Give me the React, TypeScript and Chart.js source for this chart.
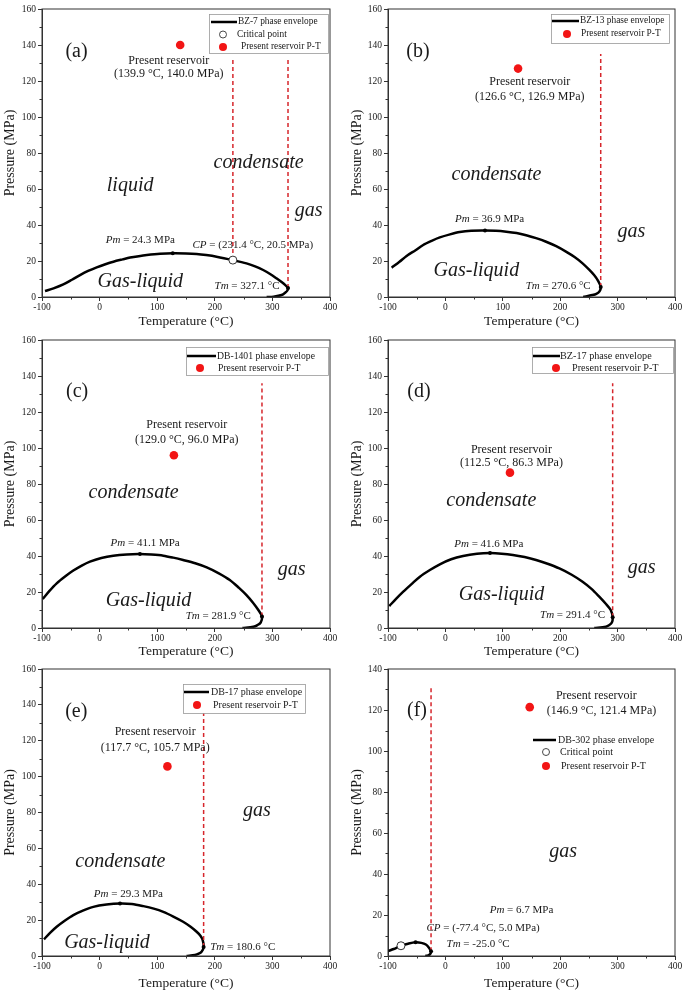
import { useEffect, useRef } from "react";
import { Chart, registerables } from "chart.js";

Chart.register(...registerables);

const SERIF = "'Liberation Serif', 'Times New Roman', Times, serif";
const RED_MARK = "#f21515";
const RED_DASH = "#d6262c";
const INK = "#1a1a1a";
const AXIS = "#333333";

// ---------------- data ----------------
const wellNames = ["BZ-7", "BZ-13", "DB-1401", "BZ-17", "DB-17", "DB-302"];
const panelLetters = ["(a)", "(b)", "(c)", "(d)", "(e)", "(f)"];

const bz7Temp = [-94.8, -80, -63, -48, -34, -20, -5, 10, 24, 40, 53, 68, 82, 105, 127, 150, 168.5, 185, 203, 231.4, 255, 270, 284, 296, 307, 316, 322, 327.1, 326, 323, 316, 302, 290];
const bz7Pres = [3.3, 4.8, 7, 9.6, 12.2, 14.5, 16.5, 18.2, 19.6, 20.9, 21.9, 22.7, 23.3, 24, 24.3, 24.2, 23.9, 23.3, 22.4, 20.5, 18.7, 17, 15, 12.8, 10.4, 8.3, 6.7, 5, 3.6, 2.6, 1.1, 0.2, 0];

const bz13Temp = [-93.6, -80, -67.6, -52, -38.7, -24, -9.7, 8, 25, 45, 69, 88, 106, 124, 140.7, 158, 175.5, 193, 210, 225, 239, 250, 259, 266, 270.6, 268.5, 263, 256, 240];
const bz13Pres = [16.3, 19.6, 22.8, 26, 28.9, 31.2, 33.1, 34.8, 36.1, 36.8, 36.9, 36.8, 36.3, 35.5, 34.3, 32.7, 30.7, 28.2, 25.2, 22.2, 18.7, 15.3, 12.2, 9, 5.6, 3.1, 1.8, 1.1, 0];

const db1401Temp = [-98.8, -87, -74.5, -60, -45.6, -31, -16.7, 3, 23.8, 47, 70, 90, 110.6, 128, 145, 166, 186, 207, 226, 242, 255, 266, 275.6, 281.9, 279.6, 274, 267, 248];
const db1401Pres = [16.1, 20.6, 24.8, 28.6, 31.9, 34.7, 36.9, 38.9, 40.2, 40.9, 41.1, 40.8, 40.2, 39.1, 37.8, 36, 33.7, 30.4, 26.7, 22.3, 18.3, 14.2, 10, 6.4, 3, 1.6, 0.7, 0];

const bz17Temp = [-97.7, -86, -73.4, -59, -44.4, -27, -9.7, 10, 30.8, 55, 77.7, 98, 117.6, 138, 158, 178, 198.6, 220, 239, 255, 268, 279, 288, 291.4, 290, 285, 279.6, 259.4];
const bz17Pres = [12.2, 16.2, 20.2, 24.4, 28.5, 32.2, 35.4, 38.2, 40, 41.2, 41.6, 41.3, 40.6, 39.4, 37.8, 35.7, 33.1, 29.6, 25.7, 21.6, 17.4, 13.6, 10, 6, 3, 1.5, 0.7, 0];

const db17Temp = [-96.5, -86, -74.5, -60, -45.6, -28, -10.9, 12, 35.4, 56, 76, 94, 110.6, 128, 145, 158, 168.5, 175, 179, 180.6, 177, 172, 165.6, 151];
const db17Pres = [9.3, 12.9, 16.3, 19.8, 22.8, 25.4, 27.4, 28.7, 29.3, 29, 27.8, 26.4, 24.6, 22, 19.1, 16.3, 13.5, 11.3, 8.9, 5, 2.4, 1.3, 0.6, 0];

const db302Temp = [-100, -90, -77.4, -65, -52, -42, -34, -29, -25, -26.5, -30, -35];
const db302Pres = [2.4, 3.4, 5.0, 6.0, 6.7, 6.4, 5.6, 4.2, 2.3, 1.0, 0.3, 0];

const envelopeTemps = [bz7Temp, bz13Temp, db1401Temp, bz17Temp, db17Temp, db302Temp];
const envelopePres = [bz7Pres, bz13Pres, db1401Pres, bz17Pres, db17Pres, db302Pres];

const reservoirTemp = [139.9, 126.6, 129.0, 112.5, 117.7, 146.9];
const reservoirPres = [140.0, 126.9, 96.0, 86.3, 105.7, 121.4];

const pmTemp = [127, 69, 70, 77.7, 35.4, -52];
const pmPres = [24.3, 36.9, 41.1, 41.6, 29.3, 6.7];

const tmTemp = [327.1, 270.6, 281.9, 291.4, 180.6, -25.0];
const tmPres = [5, 5.6, 6.4, 6, 5, 2.3];

const criticalTemp: (number | null)[] = [231.4, null, null, null, null, -77.4];
const criticalPres: (number | null)[] = [20.5, null, null, null, null, 5.0];

const dashTopPres = [132, 135, 136, 136, 135.4, 131.7];

const xMinTemp = -100;
const xMaxTemp = 400;
const xTickStep = 100;
const yTickStep = 20;
const yMaxPres = [160, 160, 160, 160, 160, 140];

// ---------------- layout / style ----------------
type Part = [string, boolean];
interface Note { x: number; y: number; parts: Part[]; size: number }
interface LegendRow { kind: "line" | "open" | "red"; y: number; mx: number; tx: number; label: string }
interface Layout {
  left: number; top: number; w: number; h: number;
  yAxisW: number; padTop: number; padRight: number; xAxisH: number; yTitlePad: number;
  dashAtCritical: boolean;
  legendBox: [number, number, number, number]; legendBorder: boolean;
  sample: [number, number]; legendFont: number;
  legendRows: { kind: "line" | "open" | "red"; y: number; mx: number; tx: number }[];
  pos: {
    letter: [number, number]; resTitle: [number, number]; resVal: [number, number];
    regions: [string, number, number][]; pm: [number, number]; tm: [number, number]; cp?: [number, number];
  };
}

const layouts: Layout[] = [
  {
    left: 0, top: 0, w: 343, h: 330, yAxisW: 42, padTop: 9, padRight: 13, xAxisH: 33, yTitlePad: 2,
    dashAtCritical: true,
    legendBox: [209, 14, 119, 39], legendBorder: true, sample: [211, 237], legendFont: 9.4,
    legendRows: [
      { kind: "line", y: 22, mx: 0, tx: 238 },
      { kind: "open", y: 34.5, mx: 223, tx: 237 },
      { kind: "red", y: 47, mx: 223, tx: 241 },
    ],
    pos: {
      letter: [-40, 136], resTitle: [120, 131], resVal: [120, 123.7],
      regions: [["liquid", 53, 62], ["condensate", 276, 74.4], ["gas", 363, 47.8], ["Gas-liquid", 70.7, 8.3]],
      pm: [70.7, 31.5], tm: [256, 5.9], cp: [266, 29],
    },
  },
  {
    left: 343, top: 0, w: 344, h: 330, yAxisW: 45, padTop: 9, padRight: 12, xAxisH: 33, yTitlePad: 6,
    dashAtCritical: false,
    legendBox: [208, 14, 118, 29], legendBorder: true, sample: [209, 236], legendFont: 9.4,
    legendRows: [
      { kind: "line", y: 21, mx: 0, tx: 237 },
      { kind: "red", y: 34, mx: 224, tx: 238 },
    ],
    pos: {
      letter: [-47.7, 136.4], resTitle: [147, 119.7], resVal: [147, 111.3],
      regions: [["condensate", 89, 67.7], ["gas", 324, 36.2], ["Gas-liquid", 54, 14.8]],
      pm: [77, 43], tm: [196.5, 5.9],
    },
  },
  {
    left: 0, top: 330, w: 343, h: 330, yAxisW: 42, padTop: 10, padRight: 13, xAxisH: 32, yTitlePad: 2,
    dashAtCritical: false,
    legendBox: [186, 17, 142, 28], legendBorder: true, sample: [187, 216], legendFont: 9.7,
    legendRows: [
      { kind: "line", y: 26, mx: 0, tx: 217 },
      { kind: "red", y: 38, mx: 200, tx: 218 },
    ],
    pos: {
      letter: [-39, 131], resTitle: [151.4, 112.8], resVal: [151.4, 104.5],
      regions: [["condensate", 59, 75.3], ["gas", 333.5, 32.5], ["Gas-liquid", 85, 15]],
      pm: [79, 47], tm: [206, 6.5],
    },
  },
  {
    left: 343, top: 330, w: 344, h: 330, yAxisW: 45, padTop: 10, padRight: 12, xAxisH: 32, yTitlePad: 6,
    dashAtCritical: false,
    legendBox: [189, 17, 141, 26], legendBorder: true, sample: [190, 217], legendFont: 10.2,
    legendRows: [
      { kind: "line", y: 26, mx: 0, tx: 217 },
      { kind: "red", y: 38, mx: 213, tx: 229 },
    ],
    pos: {
      letter: [-46, 131.4], resTitle: [115, 98.9], resVal: [115, 91.5],
      regions: [["condensate", 80, 70.5], ["gas", 342, 33.6], ["Gas-liquid", 97.7, 18.2]],
      pm: [75.6, 46.4], tm: [221.5, 7.4],
    },
  },
  {
    left: 0, top: 660, w: 343, h: 332, yAxisW: 42, padTop: 9, padRight: 13, xAxisH: 36, yTitlePad: 2,
    dashAtCritical: false,
    legendBox: [183, 24, 122, 29], legendBorder: true, sample: [184, 209], legendFont: 10,
    legendRows: [
      { kind: "line", y: 32, mx: 0, tx: 211 },
      { kind: "red", y: 45, mx: 197, tx: 213 },
    ],
    pos: {
      letter: [-40.5, 136], resTitle: [96.5, 124.7], resVal: [96.5, 116],
      regions: [["gas", 273, 80.7], ["condensate", 36, 52.3], ["Gas-liquid", 12.7, 7.4]],
      pm: [50, 34.3], tm: [248.5, 5.2],
    },
  },
  {
    left: 343, top: 660, w: 344, h: 332, yAxisW: 45, padTop: 9, padRight: 12, xAxisH: 36, yTitlePad: 6,
    dashAtCritical: false,
    legendBox: [188, 74, 127, 36], legendBorder: false, sample: [190, 213], legendFont: 10,
    legendRows: [
      { kind: "line", y: 80, mx: 0, tx: 215 },
      { kind: "open", y: 92, mx: 203, tx: 217 },
      { kind: "red", y: 106, mx: 203, tx: 218 },
    ],
    pos: {
      letter: [-49.4, 119.6], resTitle: [263, 126.9], resVal: [272, 119.7],
      regions: [["gas", 205, 50.8]],
      pm: [132.6, 22.4], tm: [57, 6], cp: [65.7, 13.8],
    },
  },
];

const f1 = (v: number) => v.toFixed(1);

function buildNotes(i: number): Note[] {
  const p = layouts[i].pos;
  const notes: Note[] = [
    { x: p.letter[0], y: p.letter[1], parts: [[panelLetters[i], false]], size: 20 },
    { x: p.resTitle[0], y: p.resTitle[1], parts: [["Present reservoir", false]], size: 12 },
    { x: p.resVal[0], y: p.resVal[1], parts: [[`(${f1(reservoirTemp[i])} °C, ${f1(reservoirPres[i])} MPa)`, false]], size: 12 },
    { x: p.pm[0], y: p.pm[1], parts: [["Pm", true], [` = ${f1(pmPres[i])} MPa`, false]], size: 11 },
    { x: p.tm[0], y: p.tm[1], parts: [["Tm", true], [` = ${f1(tmTemp[i])} °C`, false]], size: 11 },
  ];
  if (p.cp && criticalTemp[i] != null) {
    notes.push({
      x: p.cp[0], y: p.cp[1],
      parts: [["CP", true], [` = (${f1(criticalTemp[i] as number)} °C, ${f1(criticalPres[i] as number)} MPa)`, false]],
      size: 11,
    });
  }
  p.regions.forEach(([t, x, y]) => notes.push({ x, y, parts: [[t, true]], size: 20 }));
  return notes;
}

function legendRows(i: number): LegendRow[] {
  const labels: Record<string, string> = {
    line: `${wellNames[i]} phase envelope`,
    open: "Critical point",
    red: "Present reservoir P-T",
  };
  return layouts[i].legendRows.map((r) => ({ ...r, label: labels[r.kind] }));
}

function Panel({ idx }: { idx: number }) {
  const ref = useRef<HTMLCanvasElement | null>(null);
  const L = layouts[idx];

  useEffect(() => {
    const canvas = ref.current;
    if (!canvas) return;
    const notes = buildNotes(idx);
    const rows = legendRows(idx);
    const yMax = yMaxPres[idx];

    const envelope = envelopeTemps[idx].map((t, k) => ({ x: t, y: envelopePres[idx][k] }));
    const datasets: any[] = [];
    datasets.push({
      data: [{ x: reservoirTemp[idx], y: reservoirPres[idx] }],
      pointRadius: 4.3, backgroundColor: RED_MARK, borderColor: RED_MARK, pointBorderWidth: 0, showLine: false, order: 0,
    });
    if (criticalTemp[idx] != null) {
      datasets.push({
        data: [{ x: criticalTemp[idx], y: criticalPres[idx] }],
        pointRadius: 4, backgroundColor: "#ffffff", borderColor: "#333", pointBorderWidth: 1, showLine: false, order: 0,
      });
    }
    datasets.push({
      data: [{ x: pmTemp[idx], y: pmPres[idx] }, { x: tmTemp[idx], y: tmPres[idx] }],
      pointRadius: 2, backgroundColor: "#000", borderColor: "#000", pointBorderWidth: 0, showLine: false, order: 1,
    });
    const dashBase: any = { showLine: true, borderColor: RED_DASH, borderWidth: 1.5, borderDash: [4, 3], pointRadius: 0, order: 2 };
    datasets.push({ ...dashBase, data: [{ x: tmTemp[idx], y: tmPres[idx] }, { x: tmTemp[idx], y: dashTopPres[idx] }] });
    if (L.dashAtCritical && criticalTemp[idx] != null) {
      datasets.push({ ...dashBase, data: [{ x: criticalTemp[idx], y: criticalPres[idx] }, { x: criticalTemp[idx], y: dashTopPres[idx] }] });
    }
    datasets.push({
      data: envelope, showLine: true, borderColor: "#000", borderWidth: 2.5, pointRadius: 0, tension: 0.3, order: 3,
    });

    const decor = {
      id: "decor" + idx,
      afterDatasetsDraw(chart: any) {
        const ctx = chart.ctx as CanvasRenderingContext2D;
        const xs = chart.scales.x;
        const ys = chart.scales.y;
        ctx.save();
        ctx.fillStyle = INK;
        ctx.textBaseline = "middle";
        ctx.textAlign = "left";
        notes.forEach((n) => {
          const fonts = n.parts.map(([, it]) => `${it ? "italic " : ""}${n.size}px ${SERIF}`);
          const widths = n.parts.map(([t], k) => { ctx.font = fonts[k]; return ctx.measureText(t).width; });
          const total = widths.reduce((a, b) => a + b, 0);
          let x = xs.getPixelForValue(n.x) - total / 2;
          const y = ys.getPixelForValue(n.y);
          n.parts.forEach(([t], k) => { ctx.font = fonts[k]; ctx.fillText(t, x, y); x += widths[k]; });
        });
        ctx.restore();
      },
      afterDraw(chart: any) {
        const ctx = chart.ctx as CanvasRenderingContext2D;
        const a = chart.chartArea;
        const xs = chart.scales.x;
        const ys = chart.scales.y;
        ctx.save();
        // frame
        ctx.strokeStyle = AXIS;
        ctx.lineWidth = 1;
        ctx.strokeRect(a.left, a.top, a.right - a.left, a.bottom - a.top);
        // minor ticks
        ctx.beginPath();
        for (let v = xMinTemp + xTickStep / 2; v < xMaxTemp; v += xTickStep) {
          const px = Math.round(xs.getPixelForValue(v)) + 0.5;
          ctx.moveTo(px, a.bottom);
          ctx.lineTo(px, a.bottom + 2.5);
        }
        for (let v = yTickStep / 2; v < yMax; v += yTickStep) {
          const py = Math.round(ys.getPixelForValue(v)) + 0.5;
          ctx.moveTo(a.left, py);
          ctx.lineTo(a.left - 2.5, py);
        }
        ctx.stroke();
        // legend
        const [bx, by, bw, bh] = L.legendBox;
        if (L.legendBorder) {
          ctx.strokeStyle = "#9a9a9a";
          ctx.lineWidth = 0.8;
          ctx.strokeRect(bx + 0.5, by + 0.5, bw, bh);
        }
        ctx.textBaseline = "middle";
        ctx.textAlign = "left";
        rows.forEach((r) => {
          if (r.kind === "line") {
            ctx.strokeStyle = "#000";
            ctx.lineWidth = 2.5;
            ctx.beginPath();
            ctx.moveTo(L.sample[0], r.y);
            ctx.lineTo(L.sample[1], r.y);
            ctx.stroke();
          } else if (r.kind === "open") {
            ctx.beginPath();
            ctx.arc(r.mx, r.y, 3.5, 0, Math.PI * 2);
            ctx.fillStyle = "#fff";
            ctx.fill();
            ctx.strokeStyle = "#333";
            ctx.lineWidth = 0.9;
            ctx.stroke();
          } else {
            ctx.beginPath();
            ctx.arc(r.mx, r.y, 4, 0, Math.PI * 2);
            ctx.fillStyle = RED_MARK;
            ctx.fill();
          }
          ctx.fillStyle = INK;
          ctx.font = `${L.legendFont}px ${SERIF}`;
          ctx.fillText(r.label, r.tx, r.y);
        });
        ctx.restore();
      },
    };

    const chart = new Chart(canvas, {
      type: "scatter",
      data: { datasets },
      options: {
        animation: false,
        responsive: false,
        maintainAspectRatio: false,
        events: [],
        layout: { padding: { top: L.padTop, right: L.padRight, left: 0, bottom: 0 } },
        plugins: { legend: { display: false }, tooltip: { enabled: false } },
        scales: {
          x: {
            type: "linear",
            min: xMinTemp,
            max: xMaxTemp,
            afterFit: (s: any) => { s.height = L.xAxisH; },
            ticks: { stepSize: xTickStep, color: INK, padding: 1, maxRotation: 0, font: { family: SERIF, size: 9.5 } },
            grid: { drawOnChartArea: false, drawTicks: true, tickLength: 4, color: AXIS, tickColor: AXIS },
            border: { display: true, color: AXIS, width: 1 },
            title: { display: true, text: "Temperature (°C)", color: INK, font: { family: SERIF, size: 13.5 }, padding: { top: 0, bottom: 0 } },
          },
          y: {
            type: "linear",
            min: 0,
            max: yMax,
            afterFit: (s: any) => { s.width = L.yAxisW; },
            ticks: { stepSize: yTickStep, color: INK, padding: 2, font: { family: SERIF, size: 9.5 } },
            grid: { drawOnChartArea: false, drawTicks: true, tickLength: 4, color: AXIS, tickColor: AXIS },
            border: { display: true, color: AXIS, width: 1 },
            title: { display: true, text: "Pressure (MPa)", color: INK, font: { family: SERIF, size: 14 }, padding: { top: L.yTitlePad, bottom: 0 } },
          },
        },
      } as any,
      plugins: [decor],
    });
    return () => chart.destroy();
  }, [idx]);

  return (
    <canvas
      ref={ref}
      width={L.w}
      height={L.h}
      style={{ position: "absolute", left: L.left, top: L.top, width: L.w, height: L.h }}
    />
  );
}

export default function App() {
  return (
    <div style={{ position: "absolute", left: 0, top: 0, width: 687, height: 992, background: "#ffffff" }}>
      {layouts.map((_, i) => (
        <Panel key={i} idx={i} />
      ))}
    </div>
  );
}
